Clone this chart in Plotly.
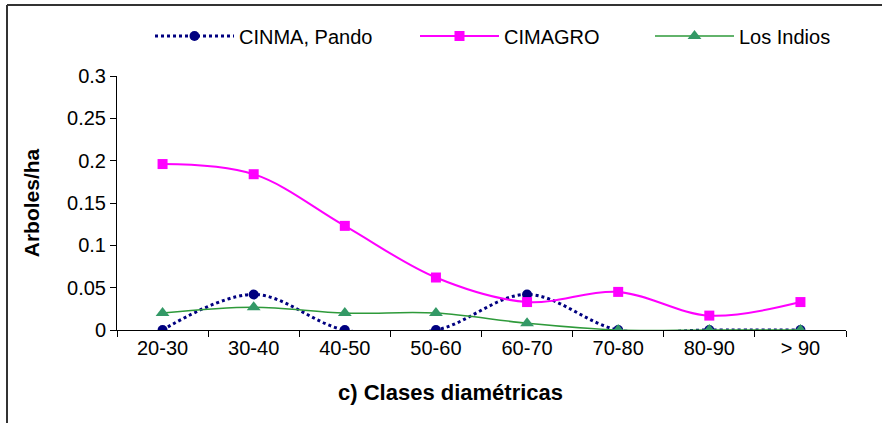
import plotly.graph_objects as go

categories = ["20-30", "30-40", "40-50", "50-60", "60-70", "70-80", "80-90", "> 90"]
cinma = [0, 0.042, 0, 0, 0.042, 0, 0, 0]
cimagro = [0.196, 0.184, 0.123, 0.062, 0.033, 0.045, 0.017, 0.033]
los_indios = [0.02, 0.027, 0.02, 0.02, 0.008, 0, 0, 0]
y_ticks = [0, 0.05, 0.1, 0.15, 0.2, 0.25, 0.3]
y_labels = ["0", "0.05", "0.1", "0.15", "0.2", "0.25", "0.3"]

W, H = 882, 423
L, R, T, B = 117, 846, 76, 330

def px(x):
    return (x - L) / (R - L)

def py(y):
    return (B - y) / (B - T)

fig = go.Figure()
fig.add_trace(go.Scatter(
    x=categories, y=cinma, name="CINMA, Pando", mode="lines+markers", legend="legend",
    line=dict(color="#000080", width=3, dash="dot", shape="spline", smoothing=1),
    marker=dict(symbol="circle", size=10, color="#000080")))
fig.add_trace(go.Scatter(
    x=categories, y=cimagro, name="CIMAGRO", mode="lines+markers", legend="legend2",
    line=dict(color="#FF00FF", width=2, shape="spline", smoothing=1),
    marker=dict(symbol="square", size=10, color="#FF00FF")))
fig.add_trace(go.Scatter(
    x=categories, y=los_indios, name="Los Indios", mode="lines+markers", legend="legend3",
    line=dict(color="#2E9A3A", width=1.5, shape="spline", smoothing=1),
    marker=dict(symbol="triangle-up", size=12, color="#339966")))

def leg(x_left):
    return dict(orientation="h", x=px(x_left), xanchor="left", y=py(36), yanchor="middle",
                font=dict(size=20), itemwidth=79, bgcolor="rgba(0,0,0,0)")

fig.update_layout(
    width=W, height=H,
    margin=dict(l=L, r=W - R, t=T, b=H - B),
    paper_bgcolor="white", plot_bgcolor="white",
    font=dict(family="Liberation Sans, Arial, sans-serif", size=20, color="black"),
    showlegend=True,
    legend=leg(150), legend2=leg(415), legend3=leg(650),
    xaxis=dict(type="category", range=[-0.5, 7.5], showgrid=False, showline=True,
               linecolor="black", linewidth=1, ticks="outside", ticklen=6,
               tickcolor="black", tickson="boundaries", tickfont=dict(size=20),
               zeroline=False),
    yaxis=dict(range=[0, 0.3], tickvals=y_ticks, ticktext=y_labels, showgrid=False,
               showline=True, linecolor="black", linewidth=1, ticks="outside",
               ticklen=6, tickcolor="black", tickfont=dict(size=20), zeroline=False,
               title=dict(text="<b>Arboles/ha</b>", font=dict(size=21), standoff=21)),
    annotations=[dict(text="<b>c) Clases diamétricas</b>", xref="paper", yref="paper",
                      x=px(450), y=py(392), xanchor="center", yanchor="middle",
                      showarrow=False, font=dict(size=22))],
    shapes=[
        dict(type="line", xref="paper", yref="paper", x0=px(7), x1=px(882), y0=py(5), y1=py(5),
             line=dict(color="#333333", width=2)),
        dict(type="line", xref="paper", yref="paper", x0=px(7), x1=px(7), y0=py(5), y1=py(423),
             line=dict(color="#333333", width=2)),
    ],
)

fig.write_html("out.html")
